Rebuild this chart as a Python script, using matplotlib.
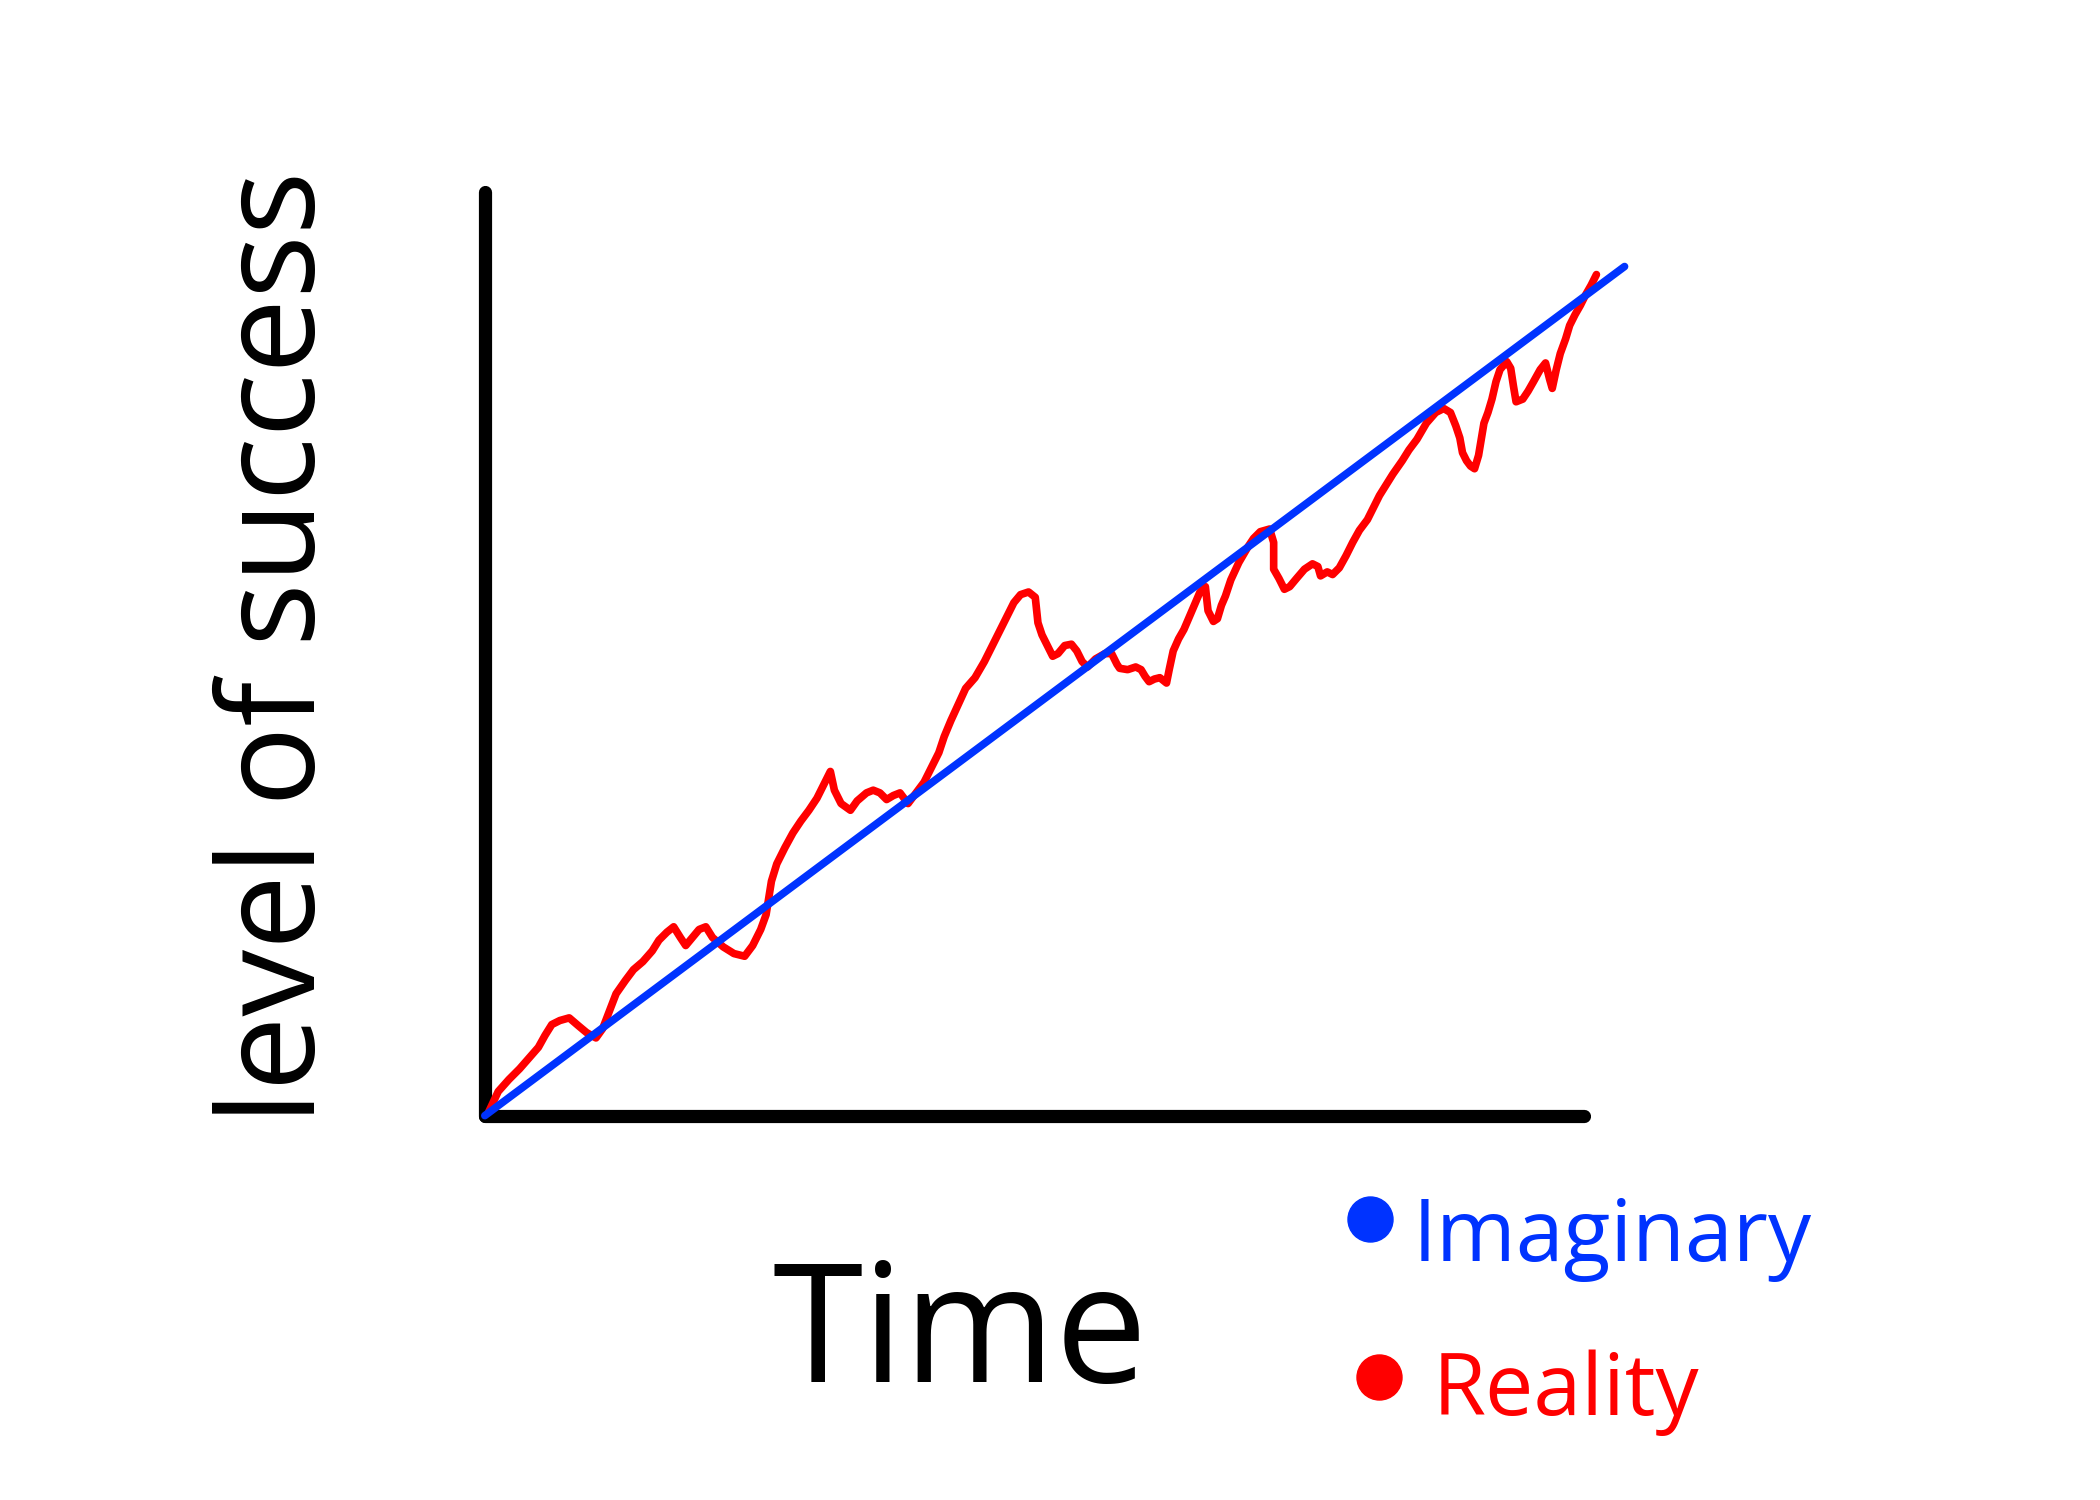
import matplotlib
matplotlib.use("Agg")
import matplotlib.pyplot as plt

# Data (arbitrary units)
time_reality = [3, 10, 18, 26, 33, 40, 45, 50, 56, 63, 70, 76, 83, 88, 93, 98, 105, 111, 118, 125,
                130, 136, 141, 146, 150, 155, 160, 165, 170, 178, 186, 194, 200, 206, 210, 214, 218,
                224, 230, 236, 242, 248, 254, 258, 261, 266, 273, 278, 285, 290, 295, 300, 305, 310,
                316, 322, 328, 334, 339, 343, 348, 354, 359, 366, 373, 379, 385, 390, 395, 400, 406,
                411, 413, 416, 420, 424, 428, 433, 438, 442, 446, 450, 456, 463, 468, 472, 474, 480,
                486, 490, 493, 496, 500, 504, 509, 511, 514, 518, 522, 528, 534, 538, 540, 544, 547,
                550, 553, 557, 563, 570, 574, 579, 586, 589, 589, 593, 597, 601, 606, 612, 618, 622,
                624, 629, 633, 638, 643, 648, 653, 659, 664, 668, 673, 678, 685, 690, 696, 703, 710,
                716, 721, 725, 728, 730, 733, 736, 739, 742, 745, 746, 749, 752, 755, 758, 763, 766,
                768, 770, 775, 779, 783, 788, 792, 795, 797, 800, 803, 807, 810, 814, 818, 822, 826, 830]
success_reality = [3, 18, 27, 35, 43, 51, 60, 68, 71, 73, 67, 62, 58, 65, 78, 91, 101, 109, 115, 123,
                   131, 137, 141, 133, 127, 133, 139, 141, 133, 126, 121, 119, 127, 139, 150, 175, 188,
                   200, 211, 220, 228, 237, 249, 257, 243, 233, 228, 235, 241, 243, 241, 236, 239, 241,
                   233, 241, 249, 261, 271, 283, 295, 308, 319, 327, 339, 351, 363, 373, 383, 389, 391,
                   387, 368, 359, 351, 343, 345, 351, 352, 347, 339, 335, 341, 345, 345, 337, 334, 333,
                   335, 333, 328, 324, 326, 327, 323, 333, 347, 356, 363, 377, 391, 395, 377, 369, 371,
                   381, 388, 400, 413, 425, 431, 436, 438, 428, 408, 401, 393, 395, 401, 408, 412, 410,
                   403, 406, 404, 409, 418, 428, 437, 445, 455, 463, 471, 479, 489, 497, 505, 517, 525,
                   528, 525, 515, 506, 495, 489, 485, 483, 493, 511, 517, 525, 535, 548, 557, 563, 558,
                   545, 533, 535, 541, 548, 557, 562, 550, 543, 557, 569, 580, 590, 598, 605, 613, 620, 628]
time_imaginary = [0, 851]
success_imaginary = [0, 634]

time_axis_end = 821
success_axis_end = 690

labels = ["Imaginary", "Reality"]
colors = ["#0033ff", "#ff0000"]

fig = plt.figure(figsize=(21, 15), dpi=100)
ax = fig.add_axes([0, 0, 1, 1])
ax.set_xlim(-362, 1568 - 362)
ax.set_ylim(833 - 1120, 833)
ax.axis("off")

# axes drawn as thick black strokes
ax.plot([0, time_axis_end], [0, 0], color="black", lw=9.5, solid_capstyle="round", zorder=1)
ax.plot([0, 0], [0, success_axis_end], color="black", lw=9.5, solid_capstyle="round", zorder=1)

ax.plot(time_reality, success_reality, color=colors[1], lw=5.5, solid_joinstyle="round",
        solid_capstyle="round", zorder=2)
ax.plot(time_imaginary, success_imaginary, color=colors[0], lw=5.5, solid_capstyle="round", zorder=3)

font = "Open Sans"
ax.text(-153, 350, "level of success", rotation=90, ha="center", va="center",
        fontsize=96, family=font, color="black")
ax.text(355, -167, "Time", ha="center", va="center", fontsize=118, family=font, color="black")

# legend
ax.scatter([661], [-77], s=1050, color=colors[0], zorder=4)
ax.text(693, -92, labels[0], ha="left", va="center", fontsize=62, family=font, color=colors[0])
ax.scatter([668], [-195], s=1050, color=colors[1], zorder=4)
ax.text(708, -207, labels[1], ha="left", va="center", fontsize=62, family=font, color=colors[1])

fig.savefig("out.png", dpi=100)
